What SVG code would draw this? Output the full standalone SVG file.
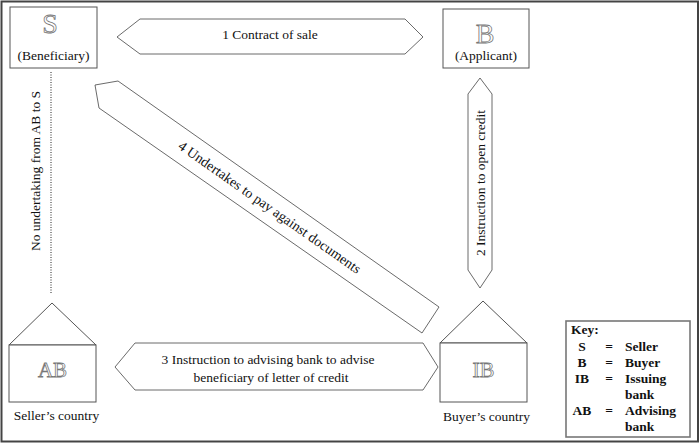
<svg xmlns="http://www.w3.org/2000/svg" width="700" height="444" viewBox="0 0 700 444">
<style>
.t{font-family:"Liberation Serif","Times New Roman",serif;font-size:13.5px;fill:#111}
.c{text-anchor:middle}
.big{font-family:"Liberation Serif","Times New Roman",serif;fill:#fff;stroke:#777;stroke-width:0.8;text-anchor:middle}
.box{fill:#fff;stroke:#555;stroke-width:1}
.arr{fill:#fff;stroke:#444;stroke-width:0.8}
.k{font-family:"Liberation Serif","Times New Roman",serif;font-size:13.5px;font-weight:bold;fill:#111}
</style>
<rect x="0" y="0" width="700" height="444" fill="#fff"/>
<rect x="1.5" y="1.5" width="696.5" height="440" fill="none" stroke="#444" stroke-width="2"/>

<g id="connectors">
  <g id="arrow1">
    <polygon class="arr" points="117,37 140,19 405,19 423,37 405,54 140,54"/>
    <text class="t c" x="270" y="39">1 Contract of sale</text>
  </g>
  <g id="arrow2">
    <polygon class="arr" points="480,78 492,94 492,270 480,288 468,270 468,94"/>
    <text class="t c" transform="translate(484.5,183) rotate(-90)">2 Instruction to open credit</text>
  </g>
  <g id="arrow3">
    <polygon class="arr" points="115,367 135,343 423,343 438,367 423,390 135,390"/>
    <text class="t c" x="268" y="364">3 Instruction to advising bank to advise</text>
    <text class="t c" x="271" y="382">beneficiary of letter of credit</text>
  </g>
  <g id="arrow4">
    <polygon class="arr" points="118,81 95,85 99,108 422,333 439,307"/>
    <text class="t c" style="font-size:14px" transform="translate(270,207) rotate(35.1)" y="5">4 Undertakes to pay against documents</text>
  </g>
  <g id="no-undertaking">
    <line x1="51" y1="72" x2="51" y2="294" stroke="#222" stroke-width="1" stroke-dasharray="1,1.5"/>
    <text class="t c" transform="translate(39.5,171) rotate(-90)">No undertaking from AB to S</text>
  </g>
</g>

<g id="S">
  <rect class="box" x="10" y="7" width="87" height="61"/>
  <text class="big" x="50" y="33" font-size="28">S</text>
  <text class="t c" x="53.5" y="60">(Beneficiary)</text>
</g>

<g id="B">
  <rect class="box" x="443" y="9" width="86" height="59"/>
  <text class="big" x="485" y="43" font-size="28">B</text>
  <text class="t c" x="486" y="60">(Applicant)</text>
</g>

<g id="AB">
  <polygon class="box" points="52,303 96,345 9,345"/>
  <rect class="box" x="9" y="345" width="87" height="57"/>
  <text class="big" x="52.5" y="377" font-size="21">AB</text>
  <text class="t c" x="56.5" y="420">Seller’s country</text>
</g>

<g id="IB">
  <polygon class="box" points="483,301 527,343 440,343"/>
  <rect class="box" x="440" y="343" width="87" height="59"/>
  <text class="big" x="483.5" y="377" font-size="22">IB</text>
  <text class="t c" x="486.5" y="421">Buyer’s country</text>
</g>

<g id="key">
  <rect x="566" y="321" width="124" height="116" fill="#fff" stroke="#777" stroke-width="1.6"/>
  <text class="k" x="571" y="334">Key:</text>
  <text class="k" x="582" y="351" text-anchor="middle">S</text>
  <text class="k" x="609" y="351" text-anchor="middle">=</text>
  <text class="k" x="625" y="351">Seller</text>
  <text class="k" x="582" y="367" text-anchor="middle">B</text>
  <text class="k" x="609" y="367" text-anchor="middle">=</text>
  <text class="k" x="625" y="367">Buyer</text>
  <text class="k" x="582" y="383" text-anchor="middle">IB</text>
  <text class="k" x="609" y="383" text-anchor="middle">=</text>
  <text class="k" x="625" y="383">Issuing</text>
  <text class="k" x="625" y="399">bank</text>
  <text class="k" x="582" y="415" text-anchor="middle">AB</text>
  <text class="k" x="609" y="415" text-anchor="middle">=</text>
  <text class="k" x="625" y="415">Advising</text>
  <text class="k" x="625" y="431">bank</text>
</g>
</svg>
